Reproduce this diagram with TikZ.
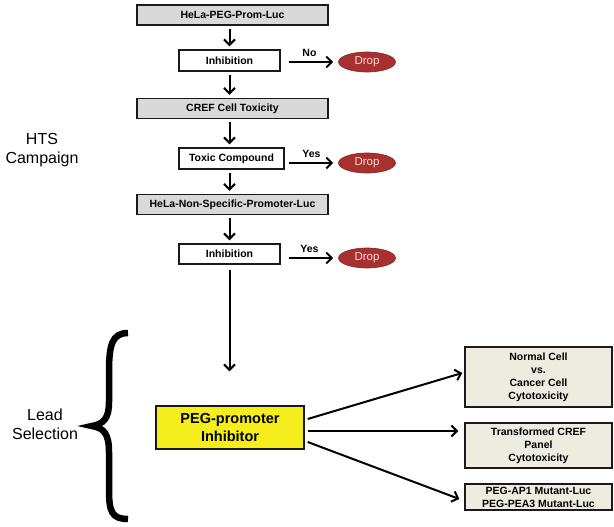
\documentclass[tikz,border=0pt]{standalone}
\usepackage{fontspec}
\setmainfont{Liberation Sans}
\usetikzlibrary{arrows.meta,shapes.geometric,calc}
\definecolor{boxgray}{HTML}{D9D9D9}
\definecolor{dropred}{HTML}{A8302F}
\definecolor{beige}{HTML}{EEECE1}
\definecolor{yel}{HTML}{F5EE1C}
\definecolor{edge}{HTML}{1A1A1A}
\tikzset{
  graybox/.style={draw=edge,line width=1.4pt,fill=boxgray,minimum height=20pt,inner sep=0pt,font=\bfseries\fontsize{10.5}{12}\selectfont},
  whitebox/.style={draw=edge,line width=1.4pt,fill=white,minimum height=21pt,inner sep=0pt,font=\bfseries\fontsize{10.5}{12}\selectfont},
  dropnode/.style={ellipse,fill=dropred,draw=dropred!80!black,line width=0.6pt,minimum width=57pt,minimum height=20pt,inner sep=0pt,text=white!85!red,font=\fontsize{11.5}{12}\selectfont},
  rbox/.style={draw=edge,line width=1.4pt,fill=beige,minimum width=147pt,inner sep=0pt,align=center,font=\bfseries\fontsize{10.5}{13}\selectfont},
  arr/.style={line width=2pt,-{Straight Barb[length=5.5pt,width=11pt,line width=2pt]}},
  lbl/.style={font=\bfseries\fontsize{10.5}{12}\selectfont},
  side/.style={align=center,font=\fontsize{16}{19}\selectfont}
}
\begin{document}
\begin{tikzpicture}[x=1pt,y=-1pt]
\useasboundingbox[fill=white] (0,0) rectangle (614,527);
\node[graybox,minimum width=191pt] (b1) at (232.5,15) {HeLa-PEG-Prom-Luc};
\node[whitebox,minimum width=101pt] (i1) at (229.5,60.5) {Inhibition};
\node[graybox,minimum width=191pt] (b2) at (232.5,108.5) {CREF Cell Toxicity};
\node[whitebox,minimum width=105pt] (t1) at (231.5,158.5) {Toxic Compound};
\node[graybox,minimum width=191pt] (b3) at (232.5,204.5) {HeLa-Non-Specific-Promoter-Luc};
\node[whitebox,minimum width=101pt,minimum height=20pt] (i2) at (229.5,254) {Inhibition};
\node[dropnode] (d1) at (367,62) {Drop};
\node[dropnode] (d2) at (367,163) {Drop};
\node[dropnode] (d3) at (367,258) {Drop};
\node[draw=edge,line width=1.4pt,fill=yel,minimum width=148pt,minimum height=43pt,inner sep=0pt,align=center,font=\bfseries\fontsize{14.5}{18}\selectfont] (y) at (230,427.5) {PEG-promoter\\Inhibitor};
\node[rbox,minimum height=60pt] (r1) at (538.5,377) {Normal Cell\\vs.\\Cancer Cell\\Cytotoxicity};
\node[rbox,minimum height=45pt] (r2) at (538.5,445.5) {Transformed CREF\\Panel\\Cytotoxicity};
\node[rbox,minimum height=26pt] (r3) at (538.5,497) {PEG-AP1 Mutant-Luc\\PEG-PEA3 Mutant-Luc};
\node[side] (hts) at (42,150) {HTS\\Campaign};
\node[side] (lead) at (45,424) {Lead\\Selection};
% vertical arrows
\draw[arr,shorten <=3pt,shorten >=3pt] (b1.south -| i1.north) -- (i1.north);
\draw[arr,shorten <=3pt,shorten >=3pt] (i1.south) -- (i1.south |- b2.north);
\draw[arr,shorten <=3pt,shorten >=3pt] (b2.south -| i1.north) -- (i1.north |- t1.north);
\draw[arr,shorten <=3pt,shorten >=3pt] (t1.south -| i1.south) -- (i1.south |- b3.north);
\draw[arr,shorten <=3pt,shorten >=3pt] (b3.south -| i2.north) -- (i2.north);
\draw[arr,shorten <=5pt,shorten >=34pt] (i2.south) -- (i2.south |- y.north);
% drop arrows
\draw[arr,shorten <=8pt,shorten >=5pt] (i1.east |- d1.west) -- node[lbl,above=1pt,pos=0.5] (no) {No} (d1.west);
\draw[arr,shorten <=4pt,shorten >=5pt] (t1.east |- d2.west) -- node[lbl,above=1pt,pos=0.5] (yes1) {Yes} (d2.west);
\draw[arr,shorten <=8pt,shorten >=5pt] (i2.east |- d3.west) -- node[lbl,above=1pt,pos=0.5] (yes2) {Yes} (d3.west);
% lead arrows
\draw[arr] ([xshift=3pt,yshift=8.5pt]y.east) -- ([xshift=-2pt,yshift=4pt]r1.west);
\draw[arr] ([xshift=3pt,yshift=-3.5pt]y.east) -- ([xshift=-6pt,yshift=14.5pt]r2.west);
\draw[arr] ([xshift=3pt,yshift=-14.5pt]y.east) -- ([xshift=-5pt,yshift=-2pt]r3.west);
% brace
\draw[line width=6.5pt] (128,333) .. controls (112,333) and (109,345) .. (109,372) -- (109,402) .. controls (109,418) and (104,424) .. (92,426) .. controls (104,428) and (109,434) .. (109,452) -- (109,490) .. controls (109,512) and (112,519) .. (128,519);
\end{tikzpicture}
\end{document}
